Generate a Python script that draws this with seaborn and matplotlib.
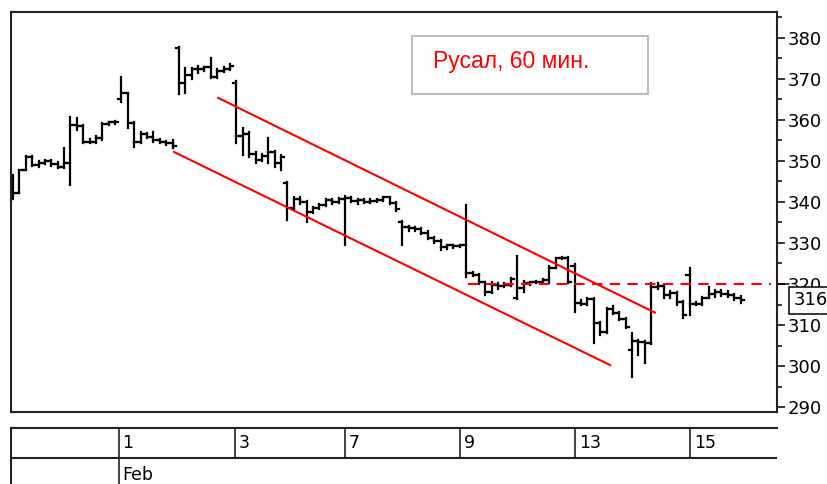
import numpy as np
import pandas as pd
import matplotlib
matplotlib.use("Agg")
import matplotlib.pyplot as plt
import matplotlib.transforms as mtransforms
from matplotlib.patches import Rectangle
import seaborn as sns

# hourly bars (open / high / low / close)
opens = [346.0, 342.2, 347.8, 351.0, 349.0, 349.5, 350.0, 349.2, 348.6, 349.6,
         358.8, 358.5, 354.6, 354.5, 355.6, 359.0, 359.4,
         365.0, 366.5, 359.3, 354.6, 356.5, 355.9, 355.0, 354.6, 354.3,
         377.6, 369.0, 371.0, 372.5, 372.3, 372.8, 370.5, 372.0, 372.4,
         369.0, 356.0, 356.5, 351.8, 350.2, 351.2, 352.2, 349.5,
         344.6, 338.6, 340.8, 340.0, 337.6, 338.5, 339.3, 340.5, 340.0,
         340.6, 341.0, 340.2, 340.5, 340.0, 340.3, 340.4, 341.1, 339.8,
         335.1, 333.8, 333.6, 333.4, 332.5, 331.3, 330.4, 329.0, 329.4, 329.2,
         329.5, 322.6, 322.3, 320.4, 318.0, 319.8, 319.5, 319.8,
         316.6, 319.0, 320.2, 320.4, 320.6, 321.0, 324.0, 326.3, 326.3,
         324.5, 315.4, 315.2, 316.4, 310.5, 308.4, 314.0, 312.9, 311.4,
         303.9, 306.0, 305.9, 305.6, 319.2, 319.6, 317.4, 317.8, 315.6,
         322.2, 315.2, 315.2, 316.6, 317.5, 318.0, 317.6, 317.3, 316.6]
highs = [346.6, 347.8, 351.2, 351.2, 350.0, 350.2, 350.3, 349.8, 353.2, 360.7,
         360.5, 358.8, 355.3, 356.0, 359.3, 359.6, 359.8,
         370.5, 366.6, 359.5, 357.0, 356.8, 357.0, 355.3, 354.9, 355.0,
         377.8, 372.7, 372.7, 373.2, 373.0, 375.1, 372.3, 373.0, 373.6,
         369.5, 358.0, 357.0, 352.2, 351.8, 355.6, 352.5, 351.5,
         344.8, 341.2, 341.2, 340.2, 338.8, 339.5, 340.8, 340.8, 341.0,
         341.5, 341.2, 340.8, 340.8, 340.6, 340.6, 341.3, 341.2, 340.0,
         335.3, 334.2, 334.0, 333.6, 332.8, 331.5, 330.7, 329.6, 329.6, 329.6,
         339.3, 323.0, 322.5, 320.6, 320.4, 320.2, 320.2, 321.5,
         326.8, 320.8, 320.6, 320.8, 321.2, 324.4, 326.4, 326.6, 326.5,
         324.8, 316.0, 316.6, 316.6, 310.8, 314.1, 314.6, 313.2, 311.6,
         308.0, 306.3, 306.0, 320.2, 320.2, 319.8, 318.2, 318.0, 315.8,
         323.9, 315.6, 316.9, 319.3, 318.6, 318.5, 318.2, 317.6, 317.0]
lows = [340.7, 342.2, 347.8, 348.8, 348.5, 349.2, 348.8, 348.3, 348.3, 344.1,
        357.5, 354.3, 354.3, 354.3, 355.2, 358.8, 359.1,
        364.4, 358.0, 353.4, 354.3, 355.5, 354.6, 354.3, 354.0, 353.2,
        366.3, 366.6, 370.0, 371.5, 371.8, 370.2, 370.2, 371.6, 372.2,
        354.4, 351.5, 351.0, 349.5, 350.0, 349.5, 348.5, 347.8,
        335.6, 338.2, 339.6, 335.1, 337.2, 338.2, 339.0, 339.6, 339.8,
        329.5, 340.0, 339.6, 339.8, 339.8, 339.9, 340.2, 339.5, 337.8,
        329.5, 333.0, 333.0, 332.2, 331.0, 330.0, 328.3, 328.6, 328.8, 329.0,
        321.7, 322.0, 320.0, 317.3, 317.8, 318.8, 319.2, 319.6,
        316.4, 318.0, 319.8, 320.2, 320.2, 320.2, 323.8, 326.0, 320.2,
        313.2, 314.8, 315.0, 305.6, 307.6, 308.0, 312.6, 311.2, 309.3,
        297.3, 302.7, 300.7, 305.4, 318.8, 316.6, 316.5, 314.9, 311.7,
        312.4, 314.8, 314.9, 316.5, 316.8, 317.0, 316.8, 316.2, 315.4]
closes = [342.2, 347.8, 351.0, 349.0, 349.5, 350.0, 349.2, 348.6, 349.6, 358.8,
          358.5, 354.6, 354.5, 355.6, 359.0, 359.4, 359.6,
          366.5, 359.3, 354.6, 356.5, 355.9, 355.0, 354.6, 354.3, 353.6,
          369.0, 371.0, 372.5, 372.3, 372.8, 370.5, 372.0, 372.4, 373.2,
          356.0, 356.5, 351.8, 350.2, 351.2, 352.2, 349.5, 351.0,
          338.6, 340.8, 340.0, 337.6, 338.5, 339.3, 340.5, 340.0, 340.6,
          341.0, 340.2, 340.5, 340.0, 340.3, 340.4, 341.1, 339.8, 338.3,
          333.8, 333.6, 333.4, 332.5, 331.3, 330.4, 329.0, 329.4, 329.2, 329.5,
          322.6, 322.3, 320.4, 318.0, 319.8, 319.5, 319.8, 321.2,
          319.0, 320.2, 320.4, 320.6, 321.0, 324.0, 326.3, 326.3, 320.6,
          315.4, 315.2, 316.4, 310.5, 308.4, 314.0, 312.9, 311.4, 309.6,
          306.0, 305.9, 305.6, 319.2, 319.6, 317.4, 317.8, 315.6, 312.5,
          315.2, 315.2, 316.6, 317.5, 318.0, 317.6, 317.3, 316.6, 316.0]

# date strip: label and the bar position where that day starts
day_labels = ["1", "3", "7", "9", "13", "15"]
day_starts = [16.6, 34.8, 52.0, 70.1, 88.1, 106.1]
month_label = "Feb"

# channel drawn by the analyst + resistance level
upper_x, upper_y = [32.1, 100.6], [365.4, 313.0]
lower_x, lower_y = [25.2, 93.6], [352.2, 300.2]
level_x, level_y = [71.3, 118.8], [320.0, 320.0]
last_price = 316

title = "Русал, 60 мин."

df = pd.DataFrame(dict(bar=np.arange(len(opens)), open=opens, high=highs,
                       low=lows, close=closes))

sns.set_theme(style="white")
plt.rcParams['font.family'] = ['DejaVu Sans']

W, H = 827, 484
fig = plt.figure(figsize=(W / 100, H / 100), dpi=100)
ax = fig.add_axes([11 / W, 72 / H, 766 / W, 400 / H])

# OHLC bars
bar_kw = dict(color="black", lw=1.6, capstyle="projecting")
ax.vlines(df["bar"], df["low"], df["high"], **bar_kw)
ax.hlines(df["open"], df["bar"] - 0.5, df["bar"], **bar_kw)
ax.hlines(df["close"], df["bar"], df["bar"] + 0.5, **bar_kw)

# channel lines
sns.lineplot(x=upper_x, y=upper_y, color="red", lw=1.5, ax=ax)
sns.lineplot(x=lower_x, y=lower_y, color="red", lw=1.5, ax=ax)
ax.plot(level_x, level_y, color="red", lw=1.5, ls=(0, (5, 3.5)))

ax.set_xlim(-0.31, 119.7)
ax.set_ylim(288.8, 386.3)
ax.set_xlabel("")
ax.set_ylabel("")
ax.set_xticks([])
ax.yaxis.tick_right()
ax.set_yticks(np.arange(290, 381, 10))
ax.set_yticks(np.arange(295, 386, 10), minor=True)
ax.tick_params(axis="y", which="both", direction="out", right=True, left=False,
               color="black", width=1.1, labelcolor="black", labelsize=13, pad=1.5)
ax.tick_params(axis="y", which="major", length=6)
ax.tick_params(axis="y", which="minor", length=3.5)
for s in ax.spines.values():
    s.set_color("#222222")
    s.set_linewidth(1.5)

# title box
ax.add_patch(Rectangle((0.5235, 0.795), 0.308, 0.145, transform=ax.transAxes,
                       facecolor="white", edgecolor="#bdbdbd", lw=1.5, zorder=4))
ax.text(0.551, 0.859, title, transform=ax.transAxes, color="red",
        fontsize=16.5, family="Liberation Sans", ha="left", va="baseline", zorder=5)

# last price marker on the axis
trans = mtransforms.blended_transform_factory(ax.transAxes, ax.transData)
ax.plot([1.0, 1.016], [level_y[0], level_y[0]], color="black", lw=1.1,
        transform=trans, clip_on=False)
ax.text(1.0215, last_price, str(last_price), transform=trans, fontsize=13,
        ha="left", va="center", color="black", clip_on=False, zorder=6,
        bbox=dict(boxstyle="square,pad=0.25", fc="white", ec="black", lw=1.1))

# date strip
ax2 = fig.add_axes([11 / W, 0, 766 / W, 56 / H], sharex=ax)
ax2.set_ylim(2 - 56 / 30, 2)
ax2.set_yticks([])
for side in ["right", "bottom"]:
    ax2.spines[side].set_visible(False)
for side in ["top", "left"]:
    ax2.spines[side].set_color("#222222")
    ax2.spines[side].set_linewidth(1.5)
ax2.axhline(1, color="#222222", lw=1.5)
ax2.vlines(day_starts, 1, 2, color="#222222", lw=1.2)
ax2.vlines(day_starts[0], 2 - 56 / 30, 1, color="#222222", lw=1.2)
for pos, lab in zip(day_starts, day_labels):
    ax2.text(pos + 0.55, 1.5, lab, fontsize=12.5, ha="left", va="center", color="black")
ax2.text(day_starts[0] + 0.55, 0.45, month_label, fontsize=12.5, ha="left",
         va="center", color="black")

fig.savefig("out.png", dpi=100, facecolor="white")
